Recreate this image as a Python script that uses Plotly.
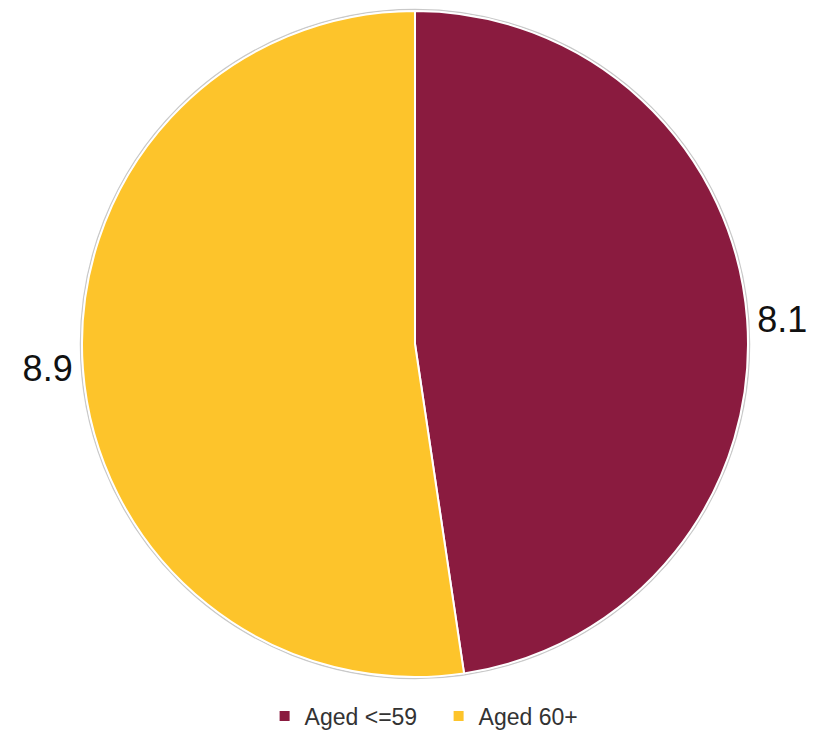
import plotly.graph_objects as go

labels = ["Aged <=59", "Aged 60+"]
values = [8.1, 8.9]
colors = ["#8A1B3F", "#FDC42B"]

W, H = 823, 731
ML, MR, MT, MB = 0, 9, 3, 62
pw, ph = W - ML - MR, H - MT - MB
r_out = min(pw, ph) / 2 + 1.5  # outline just outside the white slice border
cx, cy = pw / 2, ph / 2

fig = go.Figure()
fig.add_trace(go.Pie(
    labels=labels,
    values=values,
    sort=False,
    direction="clockwise",
    rotation=0,
    marker=dict(colors=colors, line=dict(color="white", width=2)),
    texttemplate="%{value:.1f}",
    textposition="outside",
    outsidetextfont=dict(family="Arial, Liberation Sans, sans-serif", size=36, color="#111111"),
    hoverinfo="label+value",
    showlegend=True,
))

fig.add_shape(type="circle", xref="paper", yref="paper",
              x0=(cx - r_out) / pw, x1=(cx + r_out) / pw,
              y0=(cy - r_out) / ph, y1=(cy + r_out) / ph,
              line=dict(color="#C9C9C9", width=1.5), layer="below")

fig.update_layout(
    width=W, height=H,
    margin=dict(l=ML, r=MR, t=MT, b=MB, autoexpand=False),
    paper_bgcolor="white",
    plot_bgcolor="white",
    font=dict(family="Arial, Liberation Sans, sans-serif", color="#333333"),
    legend=dict(orientation="h", x=0.529, xanchor="center", y=-0.0586, yanchor="middle",
                font=dict(size=23), entrywidth=129, entrywidthmode="pixels",
                tracegroupgap=0),
)

fig.write_html("out.html")
